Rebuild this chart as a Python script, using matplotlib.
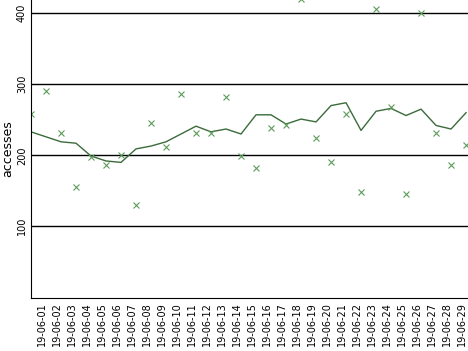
import numpy as np
import matplotlib
matplotlib.use("Agg")
import matplotlib.pyplot as plt

# daily accesses (crosses) and the smoothed line
days = list(range(1, 31))
accesses = [258, 290, 232, 155, 198, 186, 200, 130, 245, 212,
            286, 231, 231, 282, 199, 182, 238, 242, 420, 225,
            190, 258, 148, 406, 268, 146, 401, 232, 186, 214]
trend = [233, 226, 219, 217, 199, 192, 190, 209, 213, 219,
         230, 241, 233, 237, 230, 257, 257, 244, 251, 247,
         270, 274, 235, 262, 266, 256, 265, 242, 237, 260]
labels = ["19-06-%02d" % d for d in range(1, 30)]

fig = plt.figure(figsize=(4.68, 3.51), dpi=100)
ax = fig.add_axes([31/468, 53/351, 437/468, 298/351])

x = np.arange(len(days))
ax.plot(x, trend, color="#3b6b3b", lw=1)
ax.plot(x, accesses, "x", color="#5c9c5c", ms=4, mew=0.8)

ax.set_xlim(0, 29.13)
ax.set_ylim(-1, 418.7)
ax.set_yticks([100, 200, 300, 400])
ax.set_yticklabels(["100", "200", "300", "400"], rotation=90, va="center", fontsize=7)
ax.yaxis.grid(True, color="black", lw=1)
ax.set_axisbelow(True)

ax.set_xticks(np.arange(len(labels)) + 0.7)
ax.set_xticklabels(labels, rotation=90, fontsize=7)
ax.tick_params(length=0, pad=3)

ax.set_ylabel("accesses", fontsize=9, labelpad=2)
for s in ["top", "right"]:
    ax.spines[s].set_visible(False)

fig.savefig("out.png", dpi=100)
